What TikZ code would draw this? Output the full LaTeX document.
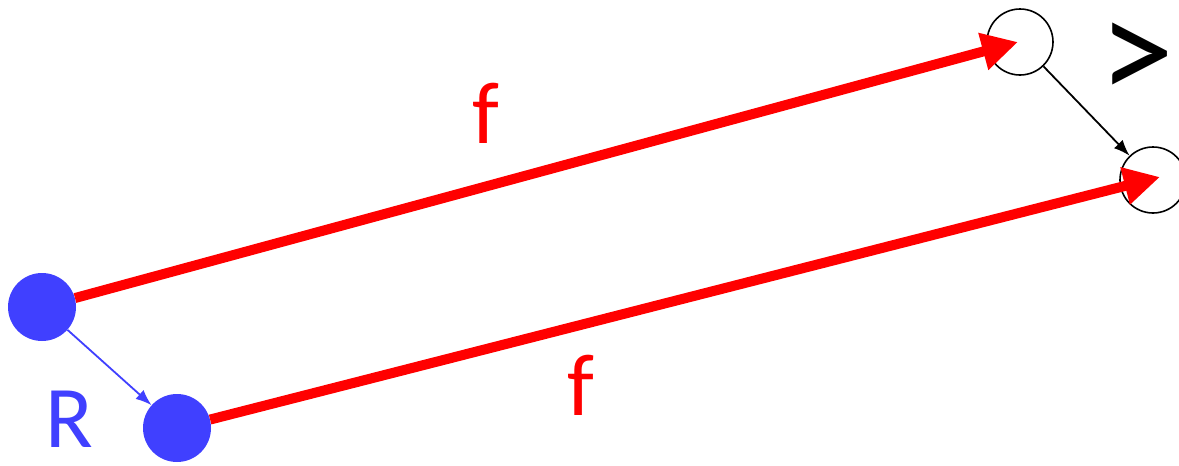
\documentclass[tikz,border=0pt]{standalone}
\usepackage{fontspec}
\setmainfont{Carlito}
\usetikzlibrary{arrows.meta}
\definecolor{myblue}{RGB}{64,64,255}
\definecolor{myred}{RGB}{255,0,0}
\tikzset{
  dot/.style={circle, fill=myblue, draw=none, minimum size=68pt, inner sep=0pt},
  hollow/.style={circle, draw=black, line width=1.6pt, fill=white, minimum size=66pt, inner sep=0pt},
  fmap/.style={draw=myred, line width=10pt, -{Triangle[length=36pt,width=36pt]}},
  rel/.style={line width=1.8pt, -{Latex[length=16pt,width=12pt]}},
  big/.style={font=\fontsize{88}{100}\selectfont, anchor=base, inner sep=0pt}
}
\begin{document}
\begin{tikzpicture}[x=1pt,y=-1pt]
\useasboundingbox (0,0) rectangle (1179,466);
\node[dot] (A) at (42,307) {};
\node[dot] (B) at (177,428) {};
\node[hollow] (C) at (1020,42) {};
\node[hollow] (D) at (1153,180) {};
\coordinate (t1) at (1018,42);
\coordinate (t2) at (1160,177);
\draw[fmap] (A) -- (t1);
\draw[fmap] (B) -- (t2);
\draw[rel, draw=black] (C) -- (D);
\draw[rel, draw=myblue] (A) -- (B);
\node[big, text=myred] (f1) at (486,143) {f};
\node[big, text=myred] (f2) at (581,415) {f};
\node[big, text=myblue] (R) at (69,447) {R};
\node[font=\fontsize{150}{160}\selectfont, inner sep=0pt, anchor=center, text=black] (gt) at (1137,62) {>};
\end{tikzpicture}
\end{document}
